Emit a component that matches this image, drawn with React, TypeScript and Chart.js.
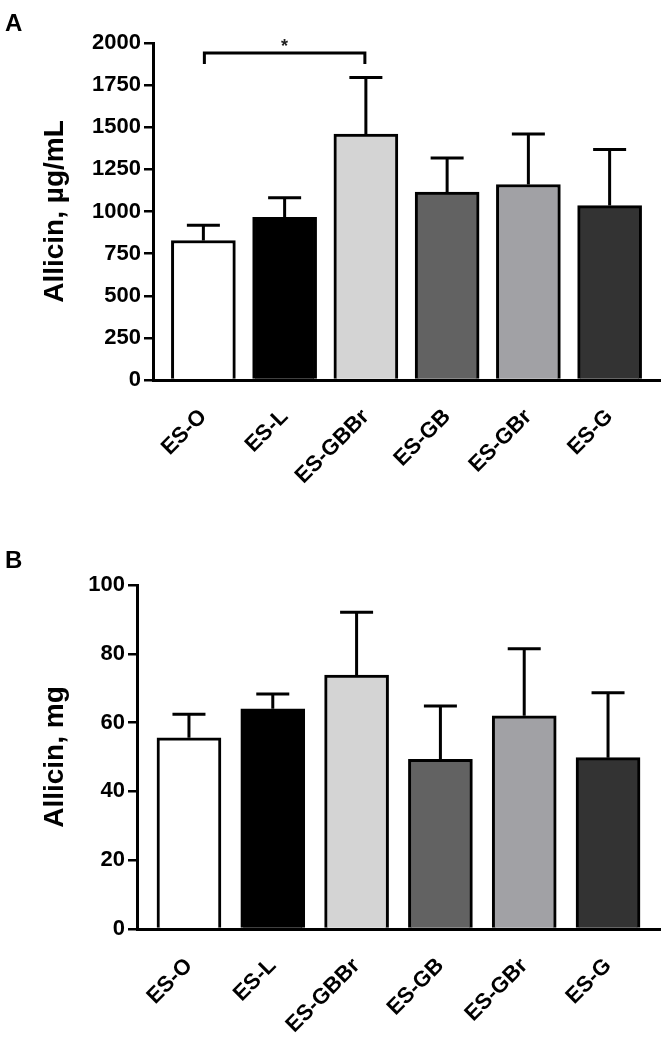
import React, { useEffect, useRef } from 'react';
import { Chart, registerables } from 'chart.js';

Chart.register(...registerables);

const FONT = '"Liberation Sans", Arial, Helvetica, sans-serif';

// ---- data ----
const categories = ['ES-O', 'ES-L', 'ES-GBBr', 'ES-GB', 'ES-GBr', 'ES-G'];
const barColors = ['#ffffff', '#000000', '#d4d4d4', '#626262', '#a1a1a5', '#333333'];

const concMeans = [828, 965, 1460, 1115, 1160, 1035];
const concErrors = [90, 117, 335, 203, 300, 333];
const concTickStep = 250;
const concMax = 2000;
const concTitle = 'Allicin, \u00b5g/mL';

const massMeans = [55.6, 64.0, 73.8, 49.3, 62.0, 49.8];
const massErrors = [6.8, 4.3, 18.3, 15.5, 19.5, 18.9];
const massTickStep = 20;
const massMax = 100;
const massTitle = 'Allicin, mg';

// significance bracket for panel A: [fromIndex, toIndex, level, label]
const concBrackets: [number, number, number, string][] = [[0, 2, 1940, '*']];

type PanelProps = {
  label: string;
  labelY: number;
  means: number[];
  errors: number[];
  max: number;
  step: number;
  title: string;
  brackets: [number, number, number, string][];
  height: number;
  top: number;
  bottom: number;
  left: number;
  right: number;
};

function Panel(p: PanelProps) {
  const ref = useRef<HTMLCanvasElement | null>(null);
  useEffect(() => {
    const canvas = ref.current;
    if (!canvas) return;
    const W = 666;
    const overlay = {
      id: 'overlay',
      afterDatasetsDraw(chart: any) {
        const ctx = chart.ctx;
        const ys = chart.scales.y;
        const xs = chart.scales.x;
        const meta = chart.getDatasetMeta(0);
        ctx.save();
        ctx.strokeStyle = '#000';
        ctx.lineWidth = 3;
        ctx.lineCap = 'butt';
        meta.data.forEach((bar: any, i: number) => {
          const x = bar.x;
          const yTop = ys.getPixelForValue(p.means[i]);
          const yErr = ys.getPixelForValue(p.means[i] + p.errors[i]);
          ctx.beginPath();
          ctx.moveTo(x, yTop);
          ctx.lineTo(x, yErr);
          ctx.moveTo(x - 16.5, yErr);
          ctx.lineTo(x + 16.5, yErr);
          ctx.stroke();
        });
        p.brackets.forEach(([a, b, lvl, txt]) => {
          const x1 = xs.getPixelForValue(a) + 1;
          const x2 = xs.getPixelForValue(b) - 1;
          const y = ys.getPixelForValue(lvl);
          ctx.beginPath();
          ctx.moveTo(x1, y + 11);
          ctx.lineTo(x1, y);
          ctx.lineTo(x2, y);
          ctx.lineTo(x2, y + 11);
          ctx.stroke();
          ctx.fillStyle = '#222';
          ctx.font = `bold 18px ${FONT}`;
          ctx.textAlign = 'center';
          ctx.textBaseline = 'alphabetic';
          ctx.fillText(txt, (x1 + x2) / 2, y - 1);
        });
        ctx.fillStyle = '#000';
        ctx.font = `bold 24px ${FONT}`;
        ctx.textAlign = 'left';
        ctx.textBaseline = 'alphabetic';
        ctx.fillText(p.label, 5, p.labelY);
        ctx.restore();
      },
    };
    const tickFont = { family: FONT, size: 22, weight: 'bold' as const };
    const chart = new Chart(canvas, {
      type: 'bar',
      data: {
        datasets: [
          {
            data: p.means.map((v, i) => ({ x: i, y: v })),
            backgroundColor: barColors,
            borderColor: '#000',
            borderWidth: 3,
            borderSkipped: 'start',
            barThickness: 64,
          } as any,
        ],
      },
      options: {
        animation: false,
        responsive: false,
        devicePixelRatio: 1,
        layout: { padding: { top: p.top, right: W - p.right, left: 0, bottom: 0 } },
        plugins: { legend: { display: false }, tooltip: { enabled: false } },
        scales: {
          x: {
            type: 'linear',
            offset: false,
            min: -0.62,
            max: 5.62,
            afterBuildTicks: (s: any) => {
              s.ticks = categories.map((_, i) => ({ value: i }));
            },
            afterFit: (s: any) => {
              s.height = p.height - p.bottom;
            },
            ticks: {
              callback: (v: any) => categories[v] ?? '',
              minRotation: 45,
              maxRotation: 45,
              autoSkip: false,
              padding: 16,
              color: '#000',
              font: tickFont,
            },
            grid: { display: false, offset: false },
            border: { display: true, color: '#000', width: 3 },
          },
          y: {
            min: 0,
            max: p.max,
            afterFit: (s: any) => {
              s.width = p.left;
            },
            ticks: {
              stepSize: p.step,
              padding: 3,
              color: '#000',
              font: tickFont,
              callback: (v: any) => String(v),
            },
            grid: {
              display: true,
              drawOnChartArea: false,
              drawTicks: true,
              tickLength: 9,
              color: '#000',
              lineWidth: 2.5,
            },
            border: { display: true, color: '#000', width: 3 },
            title: {
              display: true,
              text: p.title,
              color: '#000',
              font: { family: FONT, size: 28, weight: 'bold' },
              padding: { top: 38, bottom: 0 },
            },
          },
        },
      } as any,
      plugins: [overlay],
    });
    return () => chart.destroy();
  }, []);
  return (
    <canvas
      ref={ref}
      width={666}
      height={p.height}
      style={{ display: 'block', width: 666, height: p.height }}
    />
  );
}

export default function App() {
  return (
    <div style={{ position: 'absolute', left: 0, top: 0, width: 666, height: 1046, background: '#fff' }}>
      <Panel
        label="A"
        labelY={31}
        means={concMeans}
        errors={concErrors}
        max={concMax}
        step={concTickStep}
        title={concTitle}
        brackets={concBrackets}
        height={545}
        top={43}
        bottom={380}
        left={153}
        right={660}
      />
      <Panel
        label="B"
        labelY={23}
        means={massMeans}
        errors={massErrors}
        max={massMax}
        step={massTickStep}
        title={massTitle}
        brackets={[]}
        height={501}
        top={40}
        bottom={384}
        left={137}
        right={660}
      />
    </div>
  );
}
